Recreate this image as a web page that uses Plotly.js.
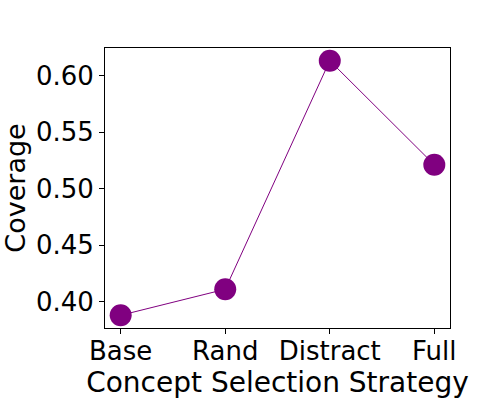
<!DOCTYPE html>
<html><head><meta charset="utf-8">
<script src="https://cdn.plot.ly/plotly-3.0.1.min.js"></script>
<style>body{margin:0;padding:0;background:#fff}#chart{width:500px;height:400px}</style>
</head><body><div id="chart"></div>
<script>
var categories = ["Base", "Rand", "Distract", "Full"];
var coverage = [0.388, 0.411, 0.613, 0.521];
var yTicks = [0.40, 0.45, 0.50, 0.55, 0.60];
var yTickLabels = ["0.40", "0.45", "0.50", "0.55", "0.60"];

var xIdx = categories.map(function(_, i){ return i; });
var ymin = Math.min.apply(null, coverage), ymax = Math.max.apply(null, coverage);
var pad = (ymax - ymin) * 0.05;

var trace = {
  x: xIdx, y: coverage, type: "scatter", mode: "lines+markers",
  line: {color: "purple", width: 1},
  marker: {color: "purple", size: 22},
  cliponaxis: false, hoverinfo: "skip"
};
var tickFont = {family: "DejaVu Sans", size: 26, color: "#000"};
var xTitleFont = {family: "DejaVu Sans", size: 28, color: "#000"};
var yTitleFont = {family: "DejaVu Sans", size: 27, color: "#000"};
var layout = {
  width: 500, height: 400,
  paper_bgcolor: "#fff", plot_bgcolor: "#fff",
  margin: {l: 105, r: 50, t: 48, b: 72},
  showlegend: false,
  font: tickFont,
  xaxis: {
    range: [-0.15, 3.15], tickmode: "array", tickvals: xIdx, ticktext: categories,
    ticks: "outside", ticklen: 5, tickwidth: 1, tickcolor: "#000",
    showline: true, linecolor: "#000", linewidth: 1, mirror: true,
    showgrid: false, zeroline: false, tickfont: tickFont, automargin: false,
    ticklabelstandoff: -5,
    title: {text: "Concept Selection Strategy", font: xTitleFont, standoff: 2}
  },
  yaxis: {
    range: [ymin - pad, ymax + pad], tickmode: "array", tickvals: yTicks, ticktext: yTickLabels,
    ticks: "outside", ticklen: 5, tickwidth: 1, tickcolor: "#000",
    showline: true, linecolor: "#000", linewidth: 1, mirror: true,
    showgrid: false, zeroline: false, tickfont: tickFont, automargin: false,
    title: {text: "Coverage", font: yTitleFont, standoff: 11}
  }
};
Plotly.newPlot("chart", [trace], layout, {staticPlot: true, displayModeBar: false});
</script></body></html>
